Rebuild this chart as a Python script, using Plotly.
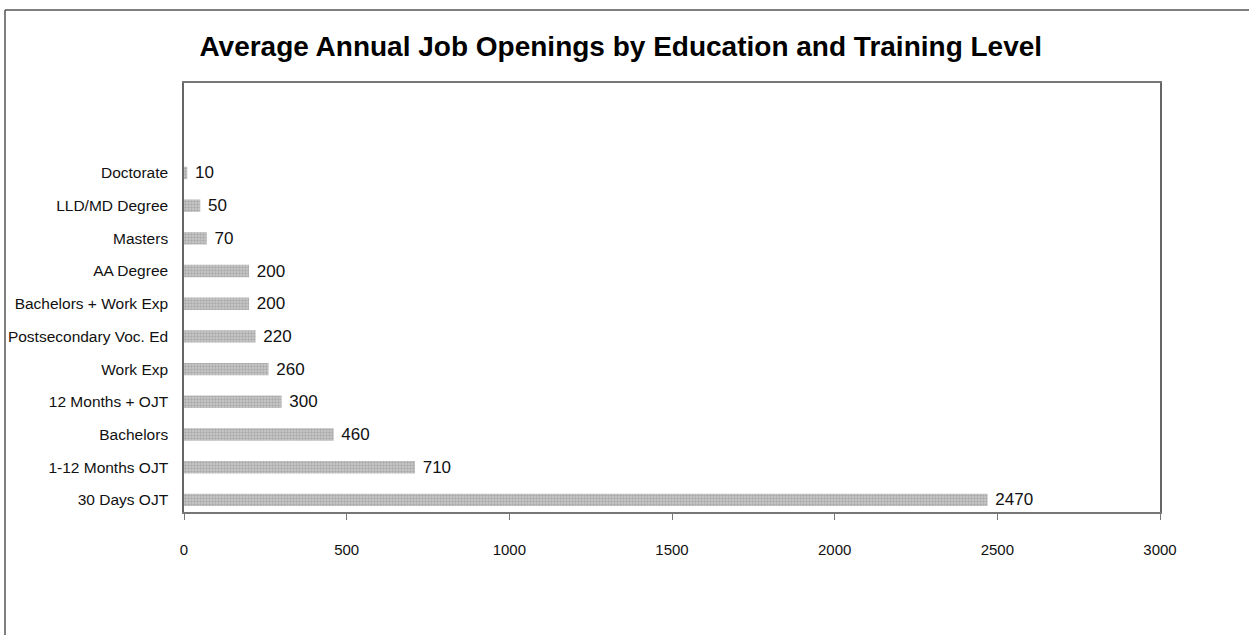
import plotly.graph_objects as go

categories = ["30 Days OJT", "1-12 Months OJT", "Bachelors", "12 Months + OJT", "Work Exp",
              "Postsecondary Voc. Ed", "Bachelors + Work Exp", "AA Degree", "Masters",
              "LLD/MD Degree", "Doctorate"]
values = [2470, 710, 460, 300, 260, 220, 200, 200, 70, 50, 10]
x_ticks = [0, 500, 1000, 1500, 2000, 2500, 3000]
title_text = "Average Annual Job Openings by Education and Training Level"

sans = "Liberation Sans, Arial, sans-serif"

fig = go.Figure()
fig.add_trace(go.Bar(
    y=categories, x=values, orientation="h",
    width=0.38,
    marker=dict(color="#c0c0c0", line=dict(width=0),
                pattern=dict(shape=".", fgcolor="#888888", bgcolor="#cccccc", size=3, solidity=0.5)),
    text=[" " + str(v) for v in values], textposition="outside", constraintext="none",
    textfont=dict(family=sans, size=17, color="#111"),
    cliponaxis=False,
))

fig.update_layout(
    width=1249, height=635,
    margin=dict(l=184, r=89, t=83, b=123, autoexpand=False),
    paper_bgcolor="white", plot_bgcolor="white",
    showlegend=False,
    title=dict(text="<b>" + title_text + "</b>", x=0.497, xanchor="center", y=0.928, yanchor="middle",
               font=dict(family=sans, size=28, color="#000")),
    xaxis=dict(range=[0, 3000], tickvals=x_ticks, showgrid=False, zeroline=False, automargin=False,
               showline=True, linecolor="#777", linewidth=1.5, mirror=True,
               ticks="outside", ticklen=6, tickcolor="#777",
               tickfont=dict(family=sans, size=15, color="#111"), ticklabelstandoff=17),
    yaxis=dict(type="category", categoryorder="array", categoryarray=categories,
               range=[-0.37, 12.75], showgrid=False, zeroline=False, automargin=False,
               showline=True, linecolor="#666", linewidth=1.5, mirror=True,
               ticks="", tickfont=dict(family=sans, size=15.5, color="#111"), ticklabelstandoff=11),
)

# outer frame (left and top edges visible)
fig.add_shape(type="line", xref="paper", yref="paper", x0=-0.1834, x1=-0.1834, y0=-0.3, y1=1.170,
              line=dict(color="#555", width=1.5))
fig.add_shape(type="line", xref="paper", yref="paper", x0=-0.1834, x1=1.1, y0=1.170, y1=1.170,
              line=dict(color="#555", width=1.5))

fig.write_html("out.html")
